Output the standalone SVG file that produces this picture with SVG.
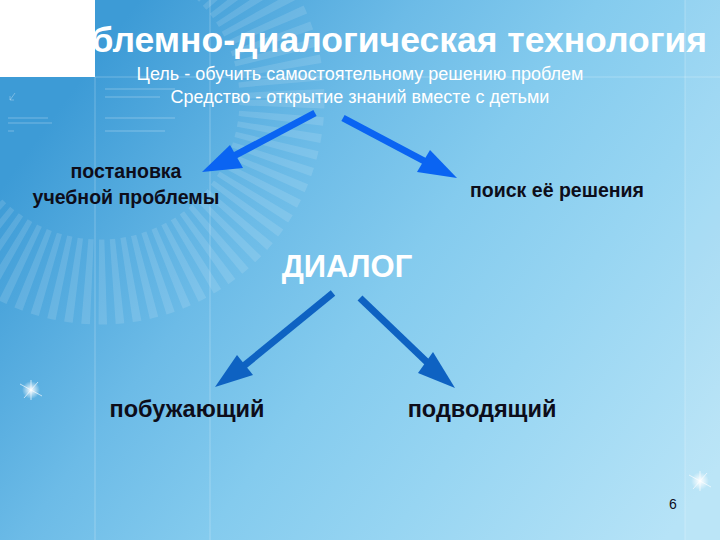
<svg xmlns="http://www.w3.org/2000/svg" width="720" height="540" viewBox="0 0 720 540">
<defs>
<linearGradient id="bg" gradientUnits="userSpaceOnUse" x1="80" y1="80" x2="680" y2="520">
<stop offset="0" stop-color="#3d9bd6"/>
<stop offset="0.3" stop-color="#6cbbe7"/>
<stop offset="0.5" stop-color="#84cbee"/>
<stop offset="0.7" stop-color="#97d5f2"/>
<stop offset="1" stop-color="#b6e3f7"/>
</linearGradient>
<radialGradient id="glow">
<stop offset="0" stop-color="#ffffff" stop-opacity="1"/>
<stop offset="0.4" stop-color="#ffffff" stop-opacity="0.6"/>
<stop offset="1" stop-color="#ffffff" stop-opacity="0"/>
</radialGradient>
<style>
.t{font-family:"Liberation Sans",Arial,sans-serif;}
.title{font-size:35.5px;font-weight:bold;fill:#ffffff;}
.sub{font-size:18px;fill:#ffffff;}
.lbl{font-size:19.5px;font-weight:bold;fill:#0d0d1a;}
.big{font-size:23.5px;font-weight:bold;fill:#0d0d1a;}
.dlg{font-size:31px;font-weight:bold;fill:#ffffff;}
.deco{stroke:#ffffff;stroke-opacity:0.25;stroke-width:1;}
.a1{stroke:#0a64f2;stroke-width:7;}
.h1{fill:#0a64f2;}
.a2{stroke:#0e62c2;stroke-width:7;}
.h2{fill:#0e62c2;}
</style>
</defs>
<rect width="720" height="540" fill="url(#bg)"/>
<rect x="685" y="0" width="35" height="540" fill="#ffffff" fill-opacity="0.08"/>
<circle cx="100" cy="100" r="182" fill="none" stroke="#ffffff" stroke-opacity="0.12" stroke-width="85" stroke-dasharray="7 7"/>
<line class="deco" x1="95" y1="77" x2="95" y2="540"/>
<line class="deco" x1="210" y1="0" x2="210" y2="540"/>
<line class="deco" x1="685" y1="0" x2="685" y2="540"/>
<line class="deco" x1="95" y1="77" x2="720" y2="77" stroke-opacity="0.12"/>
<g stroke="#ffffff" stroke-opacity="0.3">
<line x1="8" y1="118" x2="48" y2="118"/>
<line x1="8" y1="123" x2="52" y2="123"/>
<line x1="8" y1="131" x2="14" y2="131"/>
<line x1="105" y1="89" x2="175" y2="89"/>
<line x1="105" y1="97" x2="160" y2="97"/>
<line x1="105" y1="118" x2="175" y2="118"/>
<line x1="105" y1="131" x2="165" y2="131"/>
<path d="M15 93 L10 100 M10 96 L10 100 L14 100" fill="none"/>
</g>
<text class="t title" x="707" y="52" text-anchor="end">Проблемно-диалогическая технология</text>
<rect x="0" y="0" width="95" height="77" fill="#ffffff"/>
<g id="sparkles">
<circle cx="31" cy="390" r="9" fill="url(#glow)"/>
<path d="M20 384 L42 396 M31 380 L31 400 M24 398 L38 382" stroke="#ffffff" stroke-width="0.8" stroke-opacity="0.8"/>
<circle cx="700" cy="481" r="9" fill="url(#glow)"/>
<path d="M689 475 L711 487 M700 471 L700 491 M693 489 L707 473" stroke="#ffffff" stroke-width="0.8" stroke-opacity="0.8"/>
</g>
<g id="goal">
<text class="t sub" x="360" y="80" text-anchor="middle">Цель - обучить самостоятельному решению проблем</text>
<text class="t sub" x="360" y="103" text-anchor="middle">Средство - открытие знаний вместе с детьми</text>
</g>
<g id="node-problem">
<text class="t lbl" x="126" y="178" text-anchor="middle">постановка</text>
<text class="t lbl" x="126" y="204" text-anchor="middle">учебной проблемы</text>
</g>
<g id="node-search">
<text class="t lbl" x="557" y="197" text-anchor="middle">поиск её решения</text>
</g>
<g id="node-dialog">
<text class="t dlg" x="347" y="277" text-anchor="middle">ДИАЛОГ</text>
</g>
<g id="node-encouraging">
<text class="t big" x="187" y="417" text-anchor="middle">побужающий</text>
</g>
<g id="node-leading">
<text class="t big" x="482" y="417" text-anchor="middle">подводящий</text>
</g>
<g id="connectors">
<line class="a1" x1="315" y1="113" x2="232" y2="157"/>
<polygon class="h1" points="202,172 230,145 243,168"/>
<line class="a1" x1="343" y1="118" x2="428" y2="163"/>
<polygon class="h1" points="457,178 430,150 417,172"/>
<line class="a2" x1="333" y1="293" x2="240" y2="369"/>
<polygon class="h2" points="215,387 237,355 253,375"/>
<line class="a2" x1="360" y1="298" x2="431" y2="366"/>
<polygon class="h2" points="455,388 433,352 418,373"/>
</g>
<text class="t" x="673" y="509" font-size="14" fill="#0d0d1a" text-anchor="middle">6</text>
</svg>
